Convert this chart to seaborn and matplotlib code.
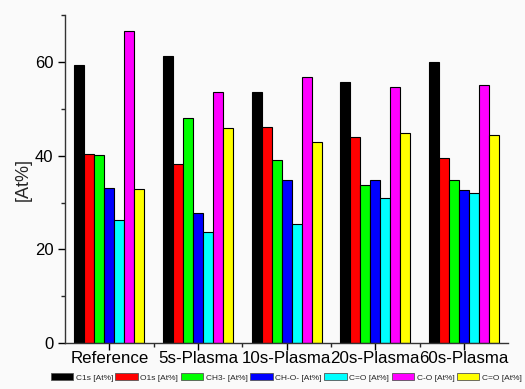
import matplotlib
matplotlib.use("Agg")
import matplotlib.pyplot as plt
import seaborn as sns
import pandas as pd
from matplotlib.ticker import MultipleLocator, FixedLocator
from matplotlib.patches import Patch

categories = ["Reference", "5s-Plasma", "10s-Plasma", "20s-Plasma", "60s-Plasma"]
series_keys = ["C1s", "O1s", "CH3-", "CH-O-", "C=O_a", "C-O", "C=O_b"]
legend_labels = ["C1s [At%]", "O1s [At%]", "CH3- [At%]", "CH-O- [At%]", "C=O [At%]", "C-O [At%]", "C=O [At%]"]
colors = ["#000000", "#ff0000", "#00ff00", "#0000ff", "#00ffff", "#ff00ff", "#ffff00"]

c1s  = [59.3, 61.3, 53.5, 55.8, 60.1]
o1s  = [40.4, 38.3, 46.1, 43.9, 39.6]
ch3  = [40.1, 48.1, 39.0, 33.8, 34.9]
cho  = [33.1, 27.7, 34.8, 34.8, 32.6]
co_a = [26.2, 23.7, 25.5, 30.9, 32.0]
c_o  = [66.7, 53.7, 56.7, 54.7, 55.2]
co_b = [32.9, 46.0, 42.9, 44.8, 44.4]

values = [c1s, o1s, ch3, cho, co_a, c_o, co_b]
rows = []
for key, vals in zip(series_keys, values):
    for cat, v in zip(categories, vals):
        rows.append({"sample": cat, "series": key, "value": v})
df = pd.DataFrame(rows)

sns.set_style("ticks")
plt.rcParams['font.family'] = ['Liberation Sans', 'DejaVu Sans']

fig = plt.figure(figsize=(5.25, 3.89), dpi=100, facecolor="#fafafa")
ax = fig.add_axes([0.124, 0.118, 0.844, 0.843])
ax.set_facecolor("#fafafa")

sns.barplot(data=df, x="sample", y="value", hue="series", order=categories,
            hue_order=series_keys, palette=colors, width=0.79, ax=ax,
            edgecolor="black", linewidth=0.8, legend=False, saturation=1)

ax.set_ylim(0, 70)
ax.set_xlim(-0.5, 4.5)
ax.yaxis.set_major_locator(MultipleLocator(20))
ax.yaxis.set_minor_locator(MultipleLocator(10))
ax.xaxis.set_minor_locator(FixedLocator([0.5, 1.5, 2.5, 3.5]))
ax.tick_params(axis="both", which="major", direction="out", length=5, width=1, labelsize=12, colors="black")
ax.tick_params(axis="x", which="major", labelsize=12.2, pad=1)
ax.tick_params(axis="both", which="minor", direction="out", length=3, width=1)
ax.set_xlabel("")
ax.set_ylabel("[At%]", fontsize=13, labelpad=2)
for s in ["top", "right"]:
    ax.spines[s].set_visible(False)
for s in ["left", "bottom"]:
    ax.spines[s].set_linewidth(1)
    ax.spines[s].set_color("#333333")

handles = [Patch(facecolor=c, edgecolor="#555555", linewidth=0.6) for c in colors]
fig.legend(handles, legend_labels, loc="lower center", bbox_to_anchor=(0.545, 0.0),
           ncol=7, fontsize=6, frameon=False, handlelength=2.7, handleheight=0.9,
           handletextpad=0.3, columnspacing=0.3, borderaxespad=0.5)

fig.savefig("out.png", dpi=100, facecolor=fig.get_facecolor())
